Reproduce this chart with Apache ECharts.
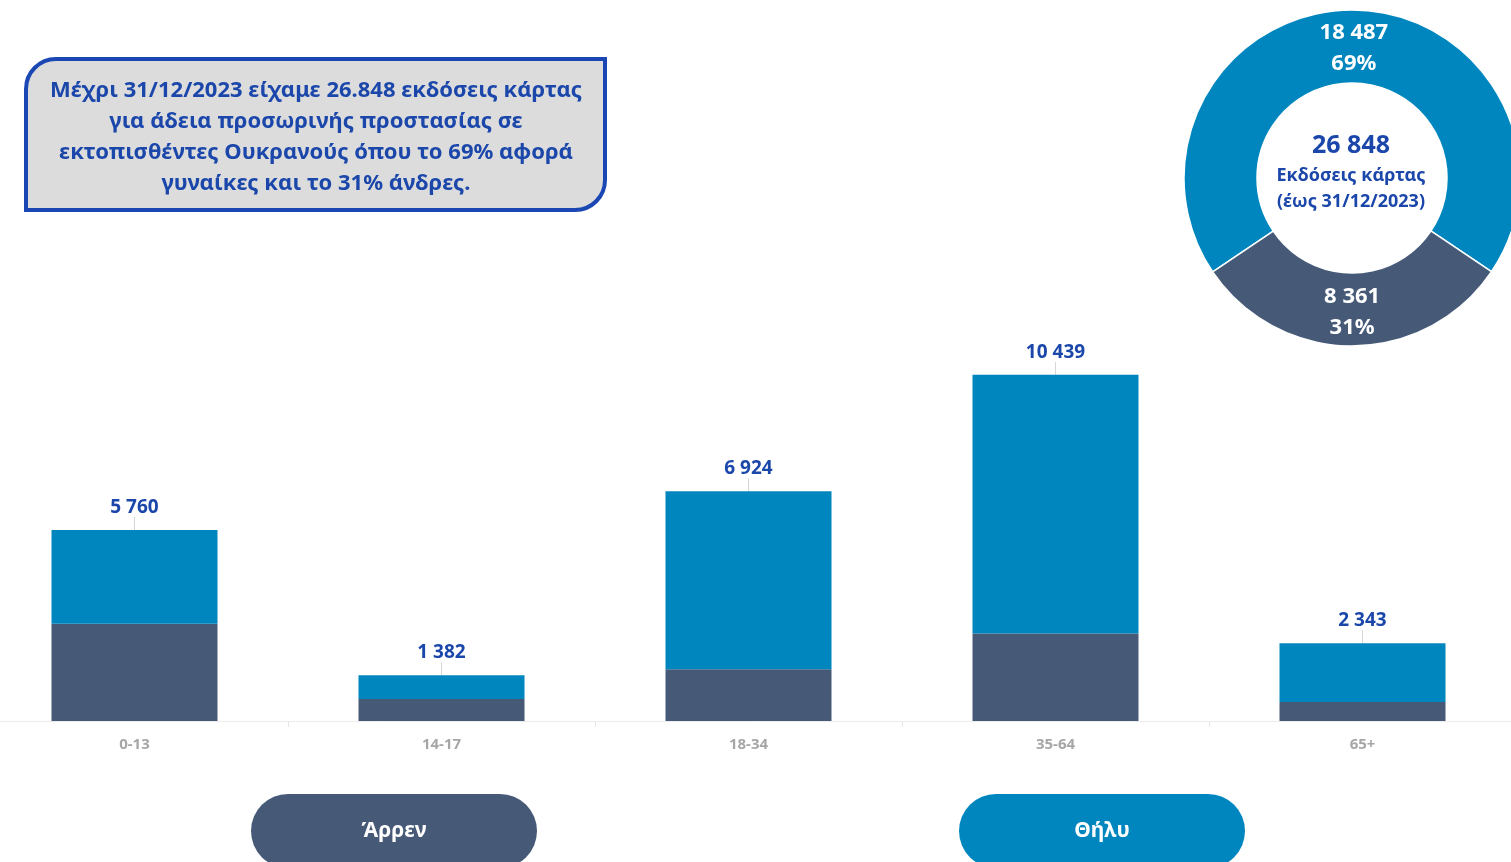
<!DOCTYPE html>
<html>
<head>
<meta charset="utf-8">
<script src="https://cdn.jsdelivr.net/npm/echarts@6/dist/echarts.min.js"></script>
<style>
  html, body { margin: 0; padding: 0; background: #fff; }
  #chart { width: 1511px; height: 862px; }
</style>
</head>
<body>
<div id="chart"></div>
<script>
// Age groups of issued cards
const ageGroups = ['0-13', '14-17', '18-34', '35-64', '65+'];
const totals = [5760, 1382, 6924, 10439, 2343];
const male = [2930, 660, 1560, 2640, 571];
const female = totals.map((t, i) => t - male[i]);
const genderNames = ['Θήλυ', 'Άρρεν'];
const genderTotals = [18487, 8361];
const centerLines = ['Εκδόσεις κάρτας', '(έως 31/12/2023)'];
const noteLines = [
  'Μέχρι 31/12/2023 είχαμε 26.848 εκδόσεις κάρτας',
  'για άδεια προσωρινής προστασίας σε',
  'εκτοπισθέντες Ουκρανούς όπου το 69% αφορά',
  'γυναίκες και το 31% άνδρες.'
];

const FONT = '"Noto Sans", "Open Sans", sans-serif';
const BLUE = '#0086BE';
const SLATE = '#465A78';
const INK = '#1B47AB';

const fmt = v => String(v).replace(/\B(?=(\d{3})+(?!\d))/g, ' ');
const grand = genderTotals.reduce((a, b) => a + b, 0);

const chart = echarts.init(document.getElementById('chart'), null, { renderer: 'canvas' });

chart.setOption({
  backgroundColor: '#ffffff',
  textStyle: { fontFamily: FONT },
  animation: false,
  grid: { left: -19, width: 1535, top: 323, bottom: 141, containLabel: false, outerBoundsMode: 'none' },
  xAxis: {
    type: 'category',
    data: ageGroups,
    axisLine: { lineStyle: { color: '#ececec', width: 1 } },
    axisTick: { show: true, length: 6, lineStyle: { color: '#e6e6e6' } },
    axisLabel: { color: '#a6a6a6', fontWeight: 'bold', fontSize: 15, margin: 16, fontFamily: FONT }
  },
  yAxis: { type: 'value', min: 0, max: 12000, show: false, splitLine: { show: false } },
  series: [
    {
      name: genderNames[1],
      type: 'bar',
      stack: 'age',
      barWidth: 166,
      data: male,
      itemStyle: { color: SLATE }
    },
    {
      name: genderNames[0],
      type: 'bar',
      stack: 'age',
      barWidth: 166,
      data: female,
      itemStyle: { color: BLUE },
      label: {
        show: true,
        position: 'top',
        distance: 3,
        color: INK,
        fontWeight: 'bold',
        fontSize: 19,
        fontFamily: FONT,
        formatter: p => fmt(totals[p.dataIndex])
      },
      labelLayout: { dy: -10 },
      labelLine: { show: true, lineStyle: { color: '#d6d6d6', width: 1 } }
    },
    {
      name: 'gender',
      type: 'pie',
      center: [1352, 178],
      radius: [95, 168],
      startAngle: 214,
      clockwise: true,
      silent: true,
      itemStyle: { borderColor: '#ffffff', borderWidth: 1.5 },
      label: {
        show: true,
        position: 'inside',
        color: '#ffffff',
        fontWeight: 'bold',
        fontSize: 22,
        lineHeight: 31,
        fontFamily: FONT,
        formatter: p => fmt(p.value) + '\n' + Math.round(p.percent) + '%'
      },
      labelLine: { show: false },
      data: [
        { name: genderNames[0], value: genderTotals[0], itemStyle: { color: BLUE }, label: { offset: [2, 5] } },
        { name: genderNames[1], value: genderTotals[1], itemStyle: { color: SLATE } }
      ]
    }
  ],
  graphic: [
    // note box
    {
      type: 'rect',
      shape: { x: 26, y: 59, width: 579, height: 151, r: [30, 0, 30, 0] },
      style: { fill: '#DCDCDC', stroke: '#1A47B3', lineWidth: 4 }
    },
    {
      type: 'text',
      x: 316,
      y: 137,
      style: {
        text: noteLines.join('\n'),
        fill: INK,
        font: 'bold 22px ' + FONT,
        lineHeight: 31,
        align: 'center',
        verticalAlign: 'middle'
      }
    },
    // donut centre
    {
      type: 'text',
      x: 1351,
      y: 146,
      style: { text: fmt(grand), fill: INK, font: 'bold 25px ' + FONT, align: 'center', verticalAlign: 'middle' }
    },
    {
      type: 'text',
      x: 1351,
      y: 189,
      style: {
        text: centerLines.join('\n'),
        fill: INK,
        font: 'bold 18px ' + FONT,
        lineHeight: 26,
        align: 'center',
        verticalAlign: 'middle'
      }
    },
    // gender keys
    {
      type: 'rect',
      shape: { x: 251, y: 794, width: 286, height: 74, r: 37 },
      style: { fill: SLATE },
      textContent: {
        style: { text: genderNames[1], fill: '#ffffff', font: 'bold 21px ' + FONT }
      },
      textConfig: { position: 'inside', offset: [0, 0] }
    },
    {
      type: 'rect',
      shape: { x: 959, y: 794, width: 286, height: 74, r: 37 },
      style: { fill: BLUE },
      textContent: {
        style: { text: genderNames[0], fill: '#ffffff', font: 'bold 21px ' + FONT }
      },
      textConfig: { position: 'inside', offset: [0, 0] }
    }
  ]
});
</script>
</body>
</html>
